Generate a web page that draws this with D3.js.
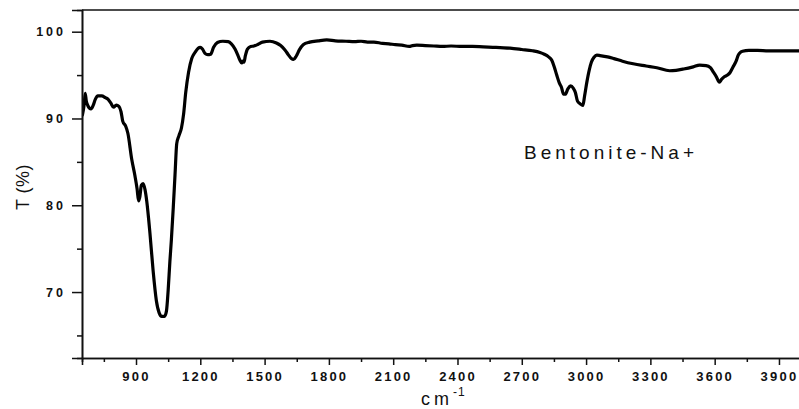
<!DOCTYPE html>
<html>
<head>
<meta charset="utf-8">
<script src="https://cdn.jsdelivr.net/npm/d3@7"></script>
<style>
  html, body { margin: 0; padding: 0; background: #fff; }
  svg { display: block; }
  text { font-family: "Liberation Sans", Arial, sans-serif; fill: #111; }
</style>
</head>
<body>
<script>
// FTIR spectrum of Na-bentonite: wavenumber (cm^-1) vs transmittance (%)
const wavenumber = [
  650, 658, 663, 668, 675, 690, 700, 710, 722, 740, 757, 770, 782, 795, 808, 820, 830, 838, 852, 862,
  880, 895, 905, 912, 918, 925, 933, 942, 950, 965, 980, 995, 1008, 1020, 1033, 1042, 1050, 1058, 1065, 1074,
  1082, 1090, 1100, 1112, 1122, 1132, 1145, 1160, 1175, 1190, 1200, 1210, 1222, 1235, 1248, 1262, 1280, 1305, 1330, 1345,
  1362, 1375, 1385, 1393, 1398, 1404, 1410, 1420, 1435, 1450, 1470, 1490, 1525, 1555, 1575, 1595, 1612, 1625, 1635, 1648,
  1662, 1680, 1710, 1750, 1790, 1830, 1880, 1920, 1950, 1980, 2010, 2050, 2080, 2110, 2140, 2175, 2190, 2210, 2250, 2290,
  2330, 2370, 2420, 2470, 2520, 2580, 2645, 2700, 2750, 2785, 2805, 2825, 2840, 2852, 2863, 2875, 2885, 2895, 2903, 2915,
  2928, 2940, 2950, 2960, 2972, 2985, 2993, 3003, 3015, 3025, 3037, 3050, 3065, 3100, 3130, 3170, 3220, 3280, 3330, 3390,
  3420, 3455, 3500, 3530, 3560, 3580, 3595, 3608, 3622, 3632, 3645, 3660, 3672, 3685, 3700, 3710, 3717, 3730, 3760, 3800,
  3850, 3900, 3950, 4000
];
const transmittance = [
  90.4, 91.6, 92.9, 92.0, 91.5, 91.1, 91.5, 92.2, 92.6, 92.6, 92.4, 92.2, 91.8, 91.3, 91.55, 91.4, 90.8, 89.7, 89.1, 88.3,
  85.3, 83.4, 81.9, 80.5, 81.0, 82.3, 82.5, 81.8, 80.5, 76.8, 72.4, 69.0, 67.6, 67.2, 67.2, 67.8, 70.2, 73.5, 76.0, 79.8,
  83.5, 87.1, 88.0, 88.9, 90.5, 93.0, 95.3, 96.9, 97.6, 98.1, 98.2, 98.0, 97.5, 97.35, 97.4, 98.2, 98.75, 98.9, 98.85, 98.6,
  98.0, 97.3, 96.7, 96.4, 96.6, 96.5, 97.2, 98.0, 98.3, 98.35, 98.55, 98.8, 98.9, 98.7, 98.4, 97.9, 97.3, 96.9, 96.8, 97.2,
  97.9, 98.5, 98.8, 98.95, 99.05, 98.95, 98.9, 98.85, 98.9, 98.8, 98.8, 98.65, 98.6, 98.5, 98.45, 98.3, 98.4, 98.45, 98.4, 98.35,
  98.3, 98.35, 98.3, 98.3, 98.25, 98.2, 98.1, 97.95, 97.8, 97.6, 97.4, 97.1, 96.7, 95.9, 95.0, 94.1, 93.6, 92.8, 92.8, 93.4,
  93.75, 93.5, 93.0, 92.0, 91.7, 91.5, 92.6, 94.1, 95.6, 96.5, 97.05, 97.3, 97.25, 97.1, 96.9, 96.6, 96.3, 96.05, 95.85, 95.5,
  95.55, 95.7, 95.95, 96.15, 96.1, 95.85, 95.3, 94.8, 94.2, 94.5, 94.8, 95.0, 95.3, 95.9, 96.6, 97.3, 97.55, 97.75, 97.85, 97.85,
  97.8, 97.8, 97.8, 97.8
];
const xMajorTicks = [900, 1200, 1500, 1800, 2100, 2400, 2700, 3000, 3300, 3600, 3900];
const xMinorTicks = [750, 1050, 1350, 1650, 1950, 2250, 2550, 2850, 3150, 3450, 3750];
const yMajorTicks = [70, 80, 90, 100];
const yMinorTicks = [65, 75, 85, 95];
const sampleLabel = "Bentonite-Na+";

const W = 799, H = 409;
const plot = { left: 82, top: 10, bottom: 358, right: 800.4 };

const svg = d3.select("body").append("svg")
  .attr("width", W).attr("height", H)
  .attr("viewBox", `0 0 ${W} ${H}`);

svg.append("rect").attr("width", W).attr("height", H).attr("fill", "#fff");

const x = d3.scaleLinear().domain([648, 4000]).range([plot.left, plot.right]);
const y = d3.scaleLinear().domain([62.4, 102.5]).range([plot.bottom, plot.top]);

const data = wavenumber.map((w, i) => ({ w, t: transmittance[i] }));

// spectrum trace, clipped to the plotting frame
svg.append("clipPath").attr("id", "plotClip")
  .append("rect").attr("x", plot.left).attr("y", plot.top)
  .attr("width", plot.right - plot.left).attr("height", plot.bottom - plot.top);

svg.append("path")
  .datum(data)
  .attr("clip-path", "url(#plotClip)")
  .attr("fill", "none")
  .attr("stroke", "#000")
  .attr("stroke-width", 3.2)
  .attr("stroke-linejoin", "round")
  .attr("stroke-linecap", "round")
  .attr("d", d3.line().x(d => x(d.w)).y(d => y(d.t)).curve(d3.curveMonotoneX));

// bottom axis: major ticks with labels, minor ticks without
const xAxis = svg.append("g").attr("transform", `translate(0,${plot.bottom})`);
xAxis.call(d3.axisBottom(x).tickValues(xMajorTicks).tickSize(7).tickPadding(7).tickFormat(d3.format("d")));
xAxis.append("g").call(d3.axisBottom(x).tickValues(xMinorTicks).tickSize(4).tickFormat(""));
xAxis.selectAll(".domain").attr("stroke", "#111").attr("stroke-width", 1.6);
xAxis.selectAll(".tick line").attr("stroke", "#111").attr("stroke-width", 1.5);
xAxis.selectAll(".tick text")
  .attr("font-size", 13).attr("font-weight", "bold")
  .attr("font-family", "'Liberation Sans', Arial, sans-serif")
  .attr("letter-spacing", "2.2px").attr("fill", "#111");

// left axis
const yAxis = svg.append("g").attr("transform", `translate(${plot.left},0)`);
yAxis.call(d3.axisLeft(y).tickValues(yMajorTicks).tickSize(10).tickPadding(6).tickFormat(d3.format("d")));
yAxis.append("g").call(d3.axisLeft(y).tickValues(yMinorTicks).tickSize(5).tickFormat(""));
yAxis.selectAll(".domain").attr("stroke", "#111").attr("stroke-width", 1.6);
yAxis.selectAll(".tick line").attr("stroke", "#111").attr("stroke-width", 1.5);
yAxis.selectAll(".tick text")
  .attr("font-size", 12.5).attr("font-weight", "bold")
  .attr("font-family", "'Liberation Sans', Arial, sans-serif")
  .attr("letter-spacing", "3px").attr("fill", "#111");

// top frame line
svg.append("line")
  .attr("x1", plot.left).attr("x2", W + 2).attr("y1", plot.top).attr("y2", plot.top)
  .attr("stroke", "#111").attr("stroke-width", 1.6);

// axis titles
svg.append("text")
  .attr("transform", `translate(29,${(plot.top + plot.bottom) / 2 + 3}) rotate(-90)`)
  .attr("text-anchor", "middle")
  .attr("font-size", 18)
  .attr("letter-spacing", "0.5px")
  .text("T (%)");

const xt = svg.append("text")
  .attr("x", 421).attr("y", 405)
  .attr("font-size", 18)
  .attr("letter-spacing", "4px");
xt.append("tspan").text("cm");
xt.append("tspan").attr("font-size", 12).attr("dy", -9).attr("letter-spacing", "1px").text("-1");

// sample annotation
svg.append("text")
  .attr("x", 524).attr("y", 159)
  .attr("font-size", 19)
  .attr("letter-spacing", "4px")
  .text(sampleLabel);
</script>
</body>
</html>
